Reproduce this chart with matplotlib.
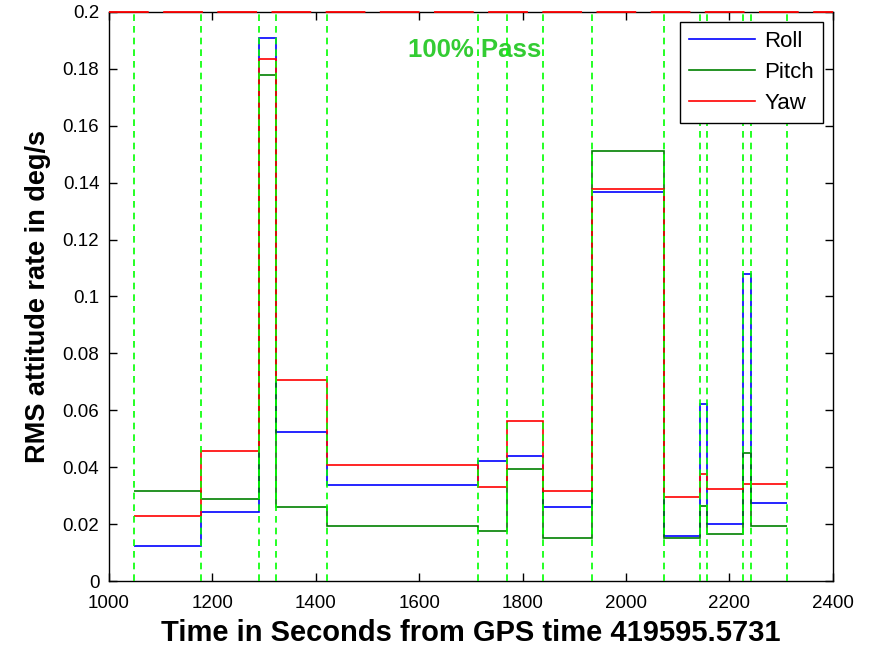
import matplotlib
matplotlib.use("Agg")
import matplotlib.pyplot as plt
import numpy as np

plt.rcParams['font.family'] = ['Liberation Sans', 'DejaVu Sans']

# Segment boundaries (seconds from GPS time 419595.5731)
edges = [1048, 1178, 1291, 1323, 1421, 1714, 1769, 1840, 1935, 2073,
         2144, 2157, 2227, 2242, 2312]
roll = [0.0123, 0.0243, 0.1907, 0.0522, 0.0336, 0.0423, 0.0439, 0.0260,
        0.1366, 0.0158, 0.0622, 0.0199, 0.1079, 0.0275]
pitch = [0.0316, 0.0288, 0.1778, 0.0260, 0.0195, 0.0176, 0.0394, 0.0152,
         0.1513, 0.0152, 0.0265, 0.0165, 0.0450, 0.0194]
yaw = [0.0228, 0.0457, 0.1835, 0.0705, 0.0406, 0.0329, 0.0562, 0.0316,
       0.1378, 0.0294, 0.0375, 0.0323, 0.0340, 0.0341]
threshold = 0.2

xticks = [1000, 1200, 1400, 1600, 1800, 2000, 2200, 2400]
yticks = [0, 0.02, 0.04, 0.06, 0.08, 0.1, 0.12, 0.14, 0.16, 0.18, 0.2]
ytick_labels = ['0', '0.02', '0.04', '0.06', '0.08', '0.1', '0.12', '0.14',
                '0.16', '0.18', '0.2']

fig = plt.figure(figsize=(8.73, 6.47), dpi=100)
ax = fig.add_axes([0.1249, 0.102, 0.954 - 0.1249, 0.9815 - 0.102])

ax.stairs(roll, edges, baseline=None, color=(0, 0, 1), lw=1.2, label='Roll', zorder=3)
ax.stairs(pitch, edges, baseline=None, color=(0, 0.5, 0), lw=1.2, label='Pitch', zorder=3)
ax.stairs(yaw, edges, baseline=None, color=(1, 0, 0), lw=1.2, label='Yaw', zorder=3)

for e in edges:
    ax.plot([e, e], [0, threshold], color=(0.0, 1.0, 0.0), lw=1.2,
            dashes=(4, 3), zorder=4)

ax.plot([1000, 2400], [threshold, threshold], color=(1, 0, 0), lw=1.3,
        dashes=(22, 8), clip_on=False, zorder=5)

ax.text(1708, 0.1866, '100% Pass', color=(0.2, 0.8, 0.2), fontsize=18.5,
        fontweight='bold', ha='center', va='center')

ax.set_xlim(1000, 2400)
ax.set_ylim(0, 0.2)
ax.set_xticks(xticks)
ax.set_yticks(yticks)
ax.set_yticklabels(ytick_labels)
ax.tick_params(direction='in', top=True, right=True, labelsize=13.5,
               length=6, width=1)
ax.tick_params(axis='x', pad=10)
ax.tick_params(axis='y', pad=7)
for s in ax.spines.values():
    s.set_linewidth(1.0)

ax.set_xlabel('Time in Seconds from GPS time 419595.5731', fontsize=21,
              fontweight='bold', labelpad=5)
ax.set_ylabel('RMS attitude rate in deg/s', fontsize=19.5,
              fontweight='bold', labelpad=8)

leg = ax.legend(loc='upper right', fontsize=16, frameon=True, fancybox=False,
                edgecolor='black', framealpha=1, borderaxespad=0.45,
                handlelength=3.0, handletextpad=0.4, labelspacing=0.45,
                borderpad=0.4)
leg.get_frame().set_linewidth(1.0)

fig.savefig('out.png', dpi=100)
